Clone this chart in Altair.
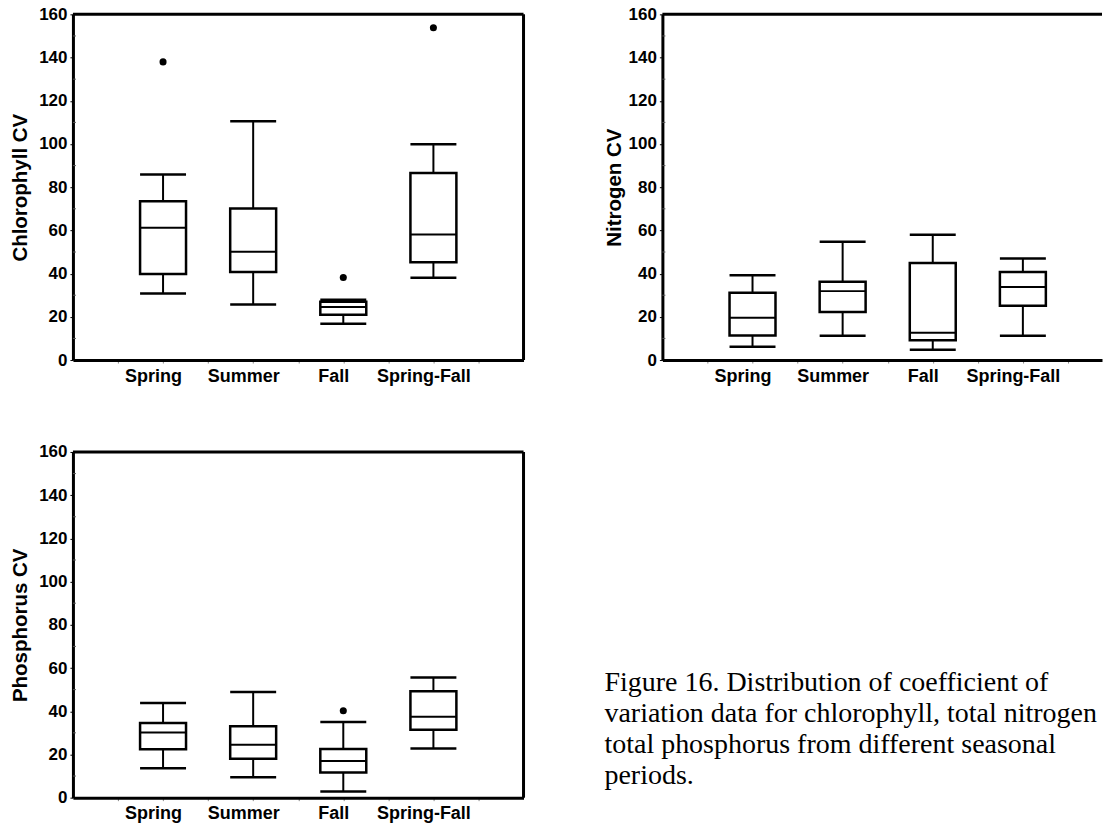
import altair as alt
import pandas as pd

# Seasonal periods on the x axis
categories = ["Spring", "Summer", "Fall", "Spring-Fall"]

# Chlorophyll CV box-plot statistics (lower whisker, Q1, median, Q3, upper whisker)
chl_low = [30.8, 25.7, 16.8, 38.1]
chl_q1 = [39.8, 40.7, 21.0, 45.3]
chl_med = [61.2, 50.1, 24.6, 58.1]
chl_q3 = [73.5, 70.1, 27.0, 86.6]
chl_high = [85.9, 110.5, 27.9, 99.9]
chl_out_cat = ["Spring", "Fall", "Spring-Fall"]
chl_out_val = [138.0, 38.2, 153.8]

# Nitrogen CV
nit_low = [6.2, 11.3, 4.8, 11.3]
nit_q1 = [11.4, 22.2, 9.2, 25.1]
nit_med = [19.6, 31.9, 12.6, 33.8]
nit_q3 = [31.1, 36.2, 44.9, 40.8]
nit_high = [39.3, 54.7, 58.0, 47.0]
nit_out_cat = []
nit_out_val = []

# Phosphorus CV
pho_low = [13.6, 9.4, 2.8, 22.8]
pho_q1 = [22.4, 18.0, 11.6, 31.4]
pho_med = [30.1, 24.5, 17.0, 37.5]
pho_q3 = [34.5, 33.0, 22.5, 49.3]
pho_high = [43.8, 48.9, 35.0, 55.6]
pho_out_cat = ["Fall"]
pho_out_val = [40.2]

y_ticks = [0, 20, 40, 60, 80, 100, 120, 140, 160]
y_minor = [10, 30, 50, 70, 90, 110, 130, 150]

caption_lines = [
    "Figure 16. Distribution of coefficient of",
    "variation data for chlorophyll, total nitrogen",
    "total phosphorus from different seasonal",
    "periods.",
]

FONT = "Liberation Sans"
SERIF = "Liberation Serif"
H = 346
W1 = 451
W2 = 440
STEP = W1 / 5.0
HALF_BOX = 0.255
LW = 2.5

label_expr = "".join(
    f"datum.value == {i + 1} ? '{c}' : " for i, c in enumerate(categories)
) + "''"
x_values = [0.5 * k for k in range(1, 2 * len(categories) + 2)]


def make_panel(ytitle, low, q1, med, q3, high, out_cat, out_val, width, right_border, title_pad):
    xmax = width / STEP
    pos = list(range(1, len(categories) + 1))
    df = pd.DataFrame({
        "cat": categories, "pos": pos,
        "low": low, "q1": q1, "med": med, "q3": q3, "high": high,
    })
    df["left"] = df["pos"] - HALF_BOX
    df["right"] = df["pos"] + HALF_BOX
    out_df = pd.DataFrame({
        "pos": [categories.index(c) + 1 for c in out_cat],
        "val": out_val,
    })

    xscale = alt.Scale(domain=[0, xmax], nice=False, zero=False)
    yscale = alt.Scale(domain=[0, 160], nice=False)
    xaxis = alt.Axis(
        title=None, values=x_values, labelExpr=label_expr, labelOverlap=False,
        labelFlush=False, labelFont=FONT, labelFontSize=18, labelFontWeight="bold",
        labelColor="black", labelOffset=-10, labelPadding=4,
        tickSize=3, tickColor="#888888", tickWidth=1,
        domainColor="black", domainWidth=3, grid=False,
    )
    yaxis = alt.Axis(
        title=ytitle, values=y_ticks, labelFont=FONT, labelFontSize=17,
        labelFontWeight="bold", labelColor="black", labelPadding=3,
        tickSize=3, tickColor="black", tickWidth=1,
        domainColor="black", domainWidth=3, grid=False,
        titleFont=FONT, titleFontSize=20.5, titleFontWeight="bold",
        titleColor="black", titlePadding=title_pad,
    )

    def X(f):
        return alt.X(f, type="quantitative", scale=xscale, axis=xaxis)

    def Y(f):
        return alt.Y(f, type="quantitative", scale=yscale, axis=yaxis)

    base = alt.Chart(df)
    stem_lo = base.mark_rule(color="black", strokeWidth=2).encode(
        x=X("pos"), y=Y("low"), y2="q1")
    stem_hi = base.mark_rule(color="black", strokeWidth=2).encode(
        x=X("pos"), y=Y("q3"), y2="high")
    cap_lo = base.mark_rule(color="black", strokeWidth=LW).encode(
        x=X("left"), x2="right", y=Y("low"))
    cap_hi = base.mark_rule(color="black", strokeWidth=LW).encode(
        x=X("left"), x2="right", y=Y("high"))
    box = base.mark_rect(fill="white", stroke="black", strokeWidth=LW).encode(
        x=X("left"), x2="right", y=Y("q1"), y2="q3")
    median = base.mark_rule(color="black", strokeWidth=2).encode(
        x=X("left"), x2="right", y=Y("med"))
    layers = [stem_lo, stem_hi, box, cap_lo, cap_hi, median]
    if len(out_df):
        layers.append(
            alt.Chart(out_df).mark_circle(color="black", opacity=1, size=50).encode(
                x=X("pos"), y=Y("val"))
        )
    minor = alt.Chart(pd.DataFrame({"v": y_minor})).mark_rule(
        color="#555555", strokeWidth=1).encode(
        x=alt.value(0), x2=alt.value(3), y=Y("v"))
    layers.append(minor)
    one = alt.Chart(pd.DataFrame({"k": [0]}))
    top = one.mark_rule(color="black", strokeWidth=3).encode(
        x=alt.value(0), x2=alt.value(width), y=alt.value(0))
    layers.append(top)
    if right_border:
        layers.append(one.mark_rule(color="black", strokeWidth=3).encode(
            x=alt.value(width), y=alt.value(0), y2=alt.value(H)))
    return alt.layer(*layers).properties(width=width, height=H)


p1 = make_panel("Chlorophyll CV", chl_low, chl_q1, chl_med, chl_q3, chl_high,
                chl_out_cat, chl_out_val, W1, True, 8)
p2 = make_panel("Nitrogen CV", nit_low, nit_q1, nit_med, nit_q3, nit_high,
                nit_out_cat, nit_out_val, W2, False, 4)
p3 = make_panel("Phosphorus CV", pho_low, pho_q1, pho_med, pho_q3, pho_high,
                pho_out_cat, pho_out_val, W1, True, 8)

cap_df = pd.DataFrame({"line": caption_lines, "row": list(range(len(caption_lines)))})
caption = alt.Chart(cap_df).mark_text(
    align="left", baseline="alphabetic", font=SERIF, fontSize=28, color="black"
).encode(
    x=alt.value(-58),
    y=alt.Y("row:Q", scale=alt.Scale(domain=[0, 1], range=[239, 270], nice=False, zero=False), axis=None),
    text="line:N",
).properties(width=W2, height=H)

chart = alt.concat(
    p1, p2, p3, caption, columns=2, bounds="flush",
    spacing={"row": 92, "column": 139},
).properties(
    padding={"left": 10, "top": 5, "right": 0, "bottom": 0},
    background="white",
).configure_view(strokeWidth=0)

chart.save("out.html", embed_options={"renderer": "svg", "actions": False})
